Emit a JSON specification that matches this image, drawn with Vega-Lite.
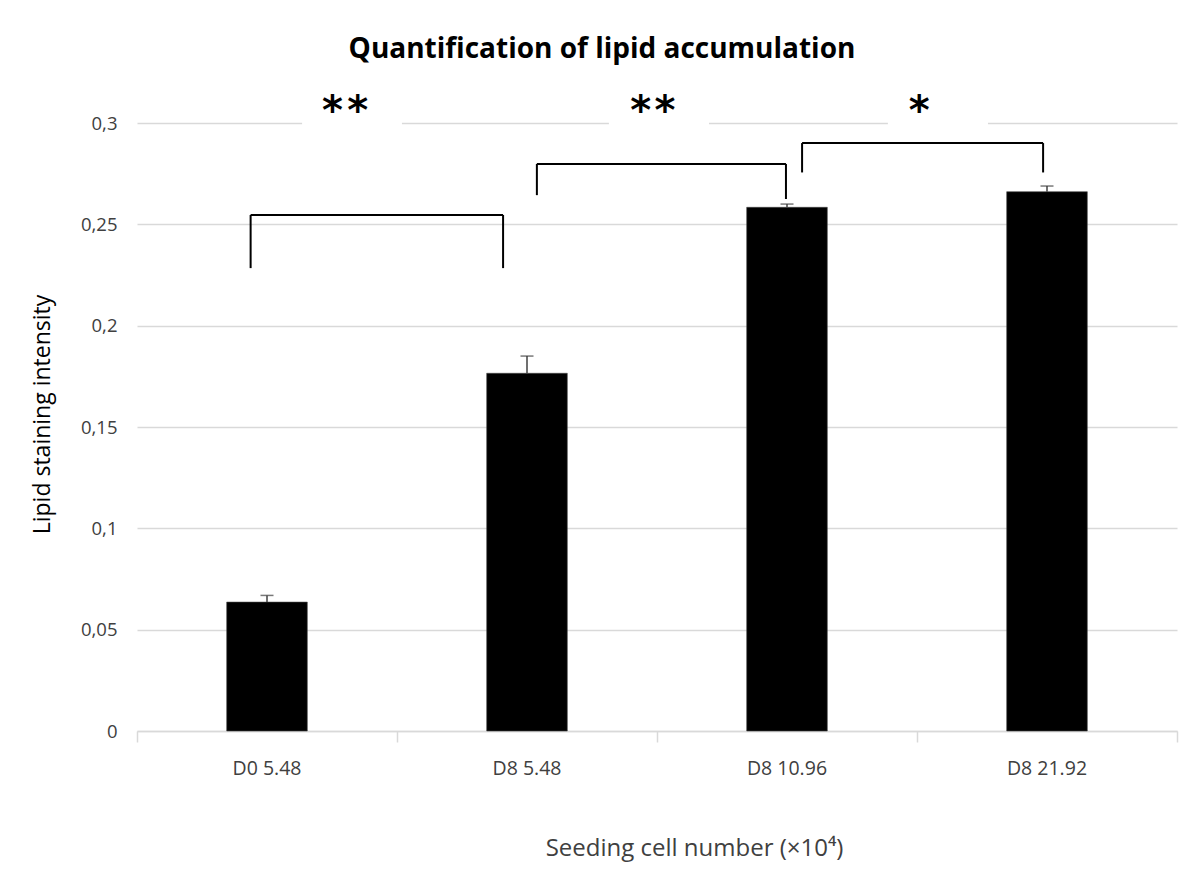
{
  "$schema": "https://vega.github.io/schema/vega-lite/v6.json",
  "width": 1040,
  "height": 608,
  "autosize": "none",
  "padding": {"left": 137, "top": 123, "right": 21, "bottom": 142},
  "background": "white",
  "config": {
    "font": "Open Sans",
    "view": {"stroke": null}
  },
  "title": {
    "text": "Quantification of lipid accumulation",
    "fontSize": 28,
    "fontWeight": "bold",
    "color": "#000000",
    "font": "Open Sans",
    "anchor": "middle",
    "frame": "group",
    "dx": -55,
    "offset": 28
  },
  "datasets": {
    "bars": [
      {"group": "D0 5.48", "mean": 0.0636, "upper": 0.0669},
      {"group": "D8 5.48", "mean": 0.1765, "upper": 0.185},
      {"group": "D8 10.96", "mean": 0.2584, "upper": 0.26},
      {"group": "D8 21.92", "mean": 0.2661, "upper": 0.2689}
    ],
    "brackets": [
      {"x1": 0.437, "x2": 1.408, "y1": 0.2546, "y2": 0.2546},
      {"x1": 0.437, "x2": 0.437, "y1": 0.2546, "y2": 0.2284},
      {"x1": 1.408, "x2": 1.408, "y1": 0.2546, "y2": 0.2284},
      {"x1": 1.538, "x2": 2.496, "y1": 0.2798, "y2": 0.2798},
      {"x1": 1.538, "x2": 1.538, "y1": 0.2798, "y2": 0.2644},
      {"x1": 2.496, "x2": 2.496, "y1": 0.2798, "y2": 0.2625},
      {"x1": 2.558, "x2": 3.485, "y1": 0.2901, "y2": 0.2901},
      {"x1": 2.558, "x2": 2.558, "y1": 0.2901, "y2": 0.2756},
      {"x1": 3.485, "x2": 3.485, "y1": 0.2901, "y2": 0.2756}
    ],
    "gaps": [
      {"x1": 0.635, "x2": 1.019, "y1": 0.296, "y2": 0.304},
      {"x1": 1.815, "x2": 2.2, "y1": 0.296, "y2": 0.304},
      {"x1": 2.888, "x2": 3.273, "y1": 0.296, "y2": 0.304}
    ],
    "stars": [
      {"x": 0.752, "y": 0.3104, "label": "*"},
      {"x": 0.849, "y": 0.3104, "label": "*"},
      {"x": 1.937, "y": 0.3104, "label": "*"},
      {"x": 2.031, "y": 0.3104, "label": "*"},
      {"x": 3.008, "y": 0.3104, "label": "*"}
    ],
    "ticks": [
      {"x": 0}, {"x": 1}, {"x": 2}, {"x": 3}, {"x": 4}
    ]
  },
  "resolve": {"scale": {"x": "independent"}},
  "layer": [
    {
      "data": {"name": "bars"},
      "mark": {"type": "bar", "color": "#000000", "stroke": "#444444", "strokeWidth": 0.6},
      "encoding": {
        "x": {
          "field": "group",
          "type": "nominal",
          "sort": null,
          "scale": {"paddingInner": 0.69, "paddingOuter": 0.345},
          "axis": {
            "orient": "bottom",
            "title": "Seeding cell number (×10⁴)",
            "labelAngle": 0,
            "labelFontSize": 19.5,
            "labelColor": "#404040",
            "labelPadding": 28,
            "ticks": false,
            "domainColor": "#d9d9d9",
            "domainWidth": 1.5,
            "grid": false,
            "titleFontSize": 24,
            "titleFontWeight": "normal",
            "titleColor": "#404040",
            "titleX": 557,
            "titleY": 124,
            "titleBaseline": "alphabetic"
          }
        },
        "y": {
          "field": "mean",
          "type": "quantitative",
          "scale": {"domain": [0, 0.3], "nice": false, "zero": true},
          "axis": {
            "title": "Lipid staining intensity",
            "values": [0, 0.05, 0.1, 0.15, 0.2, 0.25, 0.3],
            "labelExpr": "replace(format(datum.value, '~g'), '.', ',')",
            "labelFontSize": 18.5,
            "labelColor": "#404040",
            "labelPadding": 20,
            "domain": false,
            "ticks": false,
            "grid": true,
            "gridColor": "#d9d9d9",
            "gridWidth": 1.5,
            "titleFontSize": 23,
            "titleFontWeight": "normal",
            "titleColor": "#000000",
            "titlePadding": 26,
            "titleY": 291
          }
        }
      }
    },
    {
      "data": {"name": "bars"},
      "mark": {"type": "rule", "color": "#404040", "strokeWidth": 1.5},
      "encoding": {
        "x": {"field": "group", "type": "nominal", "sort": null, "scale": {"paddingInner": 0.69, "paddingOuter": 0.345}, "axis": null},
        "y": {"field": "mean", "type": "quantitative"},
        "y2": {"field": "upper"}
      }
    },
    {
      "data": {"name": "bars"},
      "mark": {"type": "tick", "color": "#404040", "size": 13, "thickness": 1.5, "orient": "horizontal"},
      "encoding": {
        "x": {"field": "group", "type": "nominal", "sort": null, "scale": {"paddingInner": 0.69, "paddingOuter": 0.345}, "axis": null},
        "y": {"field": "upper", "type": "quantitative"}
      }
    },
    {
      "data": {"name": "ticks"},
      "mark": {"type": "point", "opacity": 0},
      "encoding": {
        "x": {
          "field": "x",
          "type": "quantitative",
          "scale": {"domain": [0, 4], "nice": false, "zero": false},
          "axis": {
            "orient": "bottom",
            "values": [0, 1, 2, 3, 4],
            "labels": false,
            "domain": false,
            "grid": false,
            "ticks": true,
            "tickSize": 11,
            "tickColor": "#d9d9d9",
            "tickWidth": 1.5,
            "title": null
          }
        },
        "y": {"value": 608}
      }
    },
    {
      "data": {"name": "gaps"},
      "mark": {"type": "rect", "color": "white"},
      "encoding": {
        "x": {"field": "x1", "type": "quantitative", "scale": {"domain": [0, 4], "nice": false, "zero": false}, "axis": null},
        "x2": {"field": "x2"},
        "y": {"field": "y1", "type": "quantitative"},
        "y2": {"field": "y2"}
      }
    },
    {
      "data": {"name": "brackets"},
      "mark": {"type": "rule", "color": "#000000", "strokeWidth": 2},
      "encoding": {
        "x": {"field": "x1", "type": "quantitative", "scale": {"domain": [0, 4], "nice": false, "zero": false}, "axis": null},
        "x2": {"field": "x2"},
        "y": {"field": "y1", "type": "quantitative"},
        "y2": {"field": "y2"}
      }
    },
    {
      "data": {"name": "stars"},
      "mark": {"type": "text", "color": "#000000", "fontSize": 40, "fontWeight": "bold", "font": "DejaVu Sans", "baseline": "middle", "dy": 10},
      "encoding": {
        "x": {"field": "x", "type": "quantitative", "scale": {"domain": [0, 4], "nice": false, "zero": false}, "axis": null},
        "y": {"field": "y", "type": "quantitative"},
        "text": {"field": "label"}
      }
    }
  ]
}
